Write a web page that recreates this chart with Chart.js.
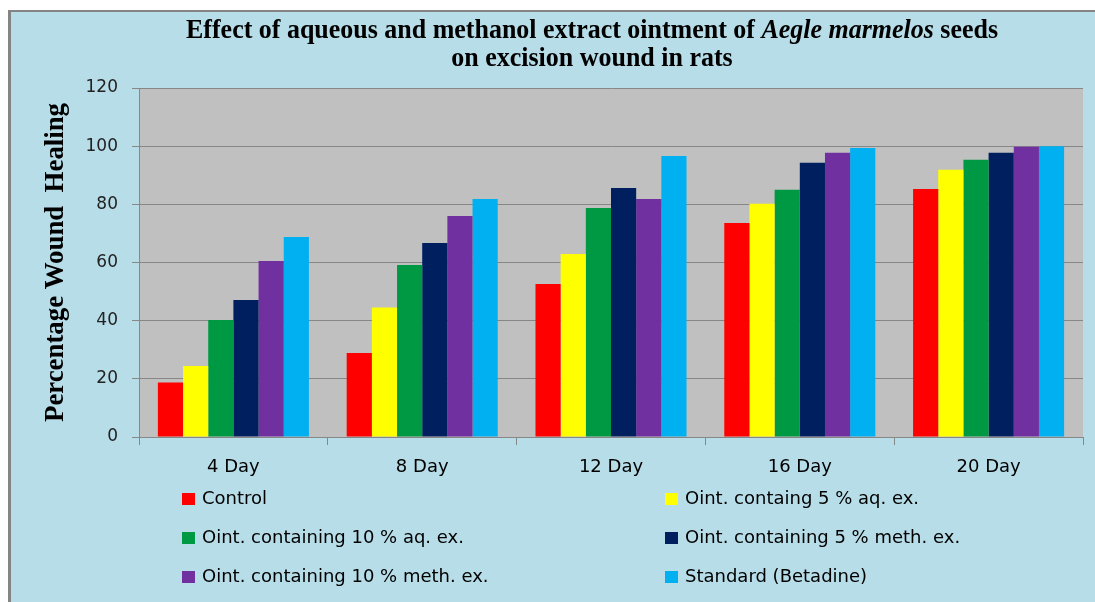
<!DOCTYPE html>
<html>
<head>
<meta charset="utf-8">
<script src="https://cdn.jsdelivr.net/npm/chart.js@4.4.1/dist/chart.umd.min.js"></script>
<style>
html,body{margin:0;padding:0;background:#B7DDE8;overflow:hidden;}
canvas{display:block;}
</style>
</head>
<body>
<canvas id="c" width="1095" height="602"></canvas>
<script>
// ---- data ----
const categories = ["4 Day", "8 Day", "12 Day", "16 Day", "20 Day"];
const seriesNames = [
  "Control",
  "Oint. containg 5 % aq. ex.",
  "Oint. containing 10 % aq. ex.",
  "Oint. containing 5 % meth. ex.",
  "Oint. containing 10 % meth. ex.",
  "Standard (Betadine)"
];
const control   = [18.7, 28.9, 52.6, 73.6, 85.3];
const aq5       = [24.4, 44.5, 62.9, 80.2, 91.9];
const aq10      = [40.2, 59.1, 78.7, 85.0, 95.3];
const meth5     = [47.1, 66.7, 85.6, 94.3, 97.7];
const meth10    = [60.5, 76.0, 81.8, 97.7, 99.8];
const standard  = [68.8, 81.8, 96.6, 99.4, 100.0];
const yTicks = [0, 20, 40, 60, 80, 100, 120];
const titleLine1 = [
  {text: "Effect of aqueous and methanol extract ointment of ", italic: false},
  {text: "Aegle marmelos", italic: true},
  {text: " seeds", italic: false}
];
const titleLine2 = "on excision wound in rats";
const yAxisTitle = "Percentage Wound  Healing";

const colors = ["#FF0000", "#FFFF00", "#009943", "#001F5F", "#7030A0", "#00B0F0"];
const values = [control, aq5, aq10, meth5, meth10, standard];

const SERIF = "'Liberation Serif', 'Times New Roman', serif";
const SANS = "'DejaVu Sans', 'Liberation Sans', Arial, sans-serif";

const decorPlugin = {
  id: 'decor',
  beforeDraw(chart) {
    const ctx = chart.ctx;
    const W = chart.width, H = chart.height;
    ctx.save();
    ctx.fillStyle = '#ffffff';
    ctx.fillRect(0, 0, W, H);
    ctx.fillStyle = '#B7DDE8';
    ctx.fillRect(11, 12, W - 11, H - 12);
    ctx.fillStyle = '#848484';
    ctx.fillRect(8, 10, 3, H - 10);
    ctx.fillRect(8, 10, W - 8, 2);
    const a = chart.chartArea;
    ctx.fillStyle = '#C0C0C0';
    ctx.fillRect(a.left, a.top, a.right - a.left, a.bottom - a.top);
    ctx.restore();
  },
  afterDraw(chart) {
    const ctx = chart.ctx;
    ctx.save();
    // ---- title ----
    const size = 28;
    const fN = `bold ${size}px ${SERIF}`;
    const fI = `italic bold ${size}px ${SERIF}`;
    let total = 0;
    const widths = titleLine1.map(s => { ctx.font = s.italic ? fI : fN; const w = ctx.measureText(s.text).width; total += w; return w; });
    const targetW = 812;
    const sx = targetW / total;
    const cx = 592;
    ctx.fillStyle = '#000';
    ctx.textBaseline = 'alphabetic';
    ctx.textAlign = 'left';
    ctx.save();
    ctx.translate(cx - targetW / 2, 38);
    ctx.scale(sx, 1);
    let x = 0;
    titleLine1.forEach((s, i) => { ctx.font = s.italic ? fI : fN; ctx.fillText(s.text, x, 0); x += widths[i]; });
    ctx.restore();
    ctx.save();
    ctx.font = fN;
    const w2 = ctx.measureText(titleLine2).width * sx;
    ctx.translate(cx - w2 / 2, 66);
    ctx.scale(sx, 1);
    ctx.fillText(titleLine2, 0, 0);
    ctx.restore();

    // ---- y axis title ----
    ctx.save();
    ctx.font = fN;
    const wy = ctx.measureText(yAxisTitle).width;
    const sy = 319 / wy;
    const a = chart.chartArea;
    ctx.translate(63, (a.top + a.bottom) / 2);
    ctx.rotate(-Math.PI / 2);
    ctx.scale(sy, 1);
    ctx.textAlign = 'center';
    ctx.fillText(yAxisTitle, 0, 0);
    ctx.restore();

    // ---- legend (2 columns, 3 rows) ----
    const colX = [182, 665];
    const rowY = [499, 538, 577];
    ctx.font = `18px ${SANS}`;
    ctx.textBaseline = 'middle';
    ctx.textAlign = 'left';
    chart.data.datasets.forEach((ds, i) => {
      const col = i % 2, row = Math.floor(i / 2);
      const bx = colX[col], by = rowY[row];
      ctx.fillStyle = ds.backgroundColor;
      ctx.fillRect(bx, by - 6, 13, 12);
      ctx.fillStyle = '#000';
      ctx.fillText(ds.label, bx + 20, by);
    });
    ctx.restore();
  }
};

const GRID = '#878787';

new Chart(document.getElementById('c'), {
  type: 'bar',
  data: {
    labels: categories,
    datasets: seriesNames.map((n, i) => ({
      label: n,
      data: values[i],
      backgroundColor: colors[i],
      borderWidth: 0,
      categoryPercentage: 0.8,
      barPercentage: 1.0
    }))
  },
  options: {
    responsive: false,
    animation: false,
    devicePixelRatio: 1,
    layout: { padding: { left: 10, right: 12, top: 88, bottom: 125 } },
    plugins: {
      legend: { display: false },
      title: { display: false },
      tooltip: { enabled: false }
    },
    scales: {
      x: {
        afterFit(scale) { scale.height = 40; },
        grid: { display: true, drawOnChartArea: false, drawTicks: true, tickLength: 8, color: GRID, lineWidth: 1, offset: true },
        border: { display: true, color: GRID, width: 1 },
        ticks: { color: '#000', font: { family: SANS, size: 18 }, padding: 12 }
      },
      y: {
        min: 0, max: 120,
        afterFit(scale) { scale.width = 129; },
        afterBuildTicks(scale) { scale.ticks = yTicks.map(v => ({ value: v })); },
        grid: { display: true, drawOnChartArea: true, drawTicks: true, tickLength: 7, color: GRID, lineWidth: 1 },
        border: { display: true, color: GRID, width: 1 },
        ticks: { color: '#222', font: { family: SANS, size: 17 }, padding: 14 }
      }
    }
  },
  plugins: [decorPlugin]
});
</script>
</body>
</html>
